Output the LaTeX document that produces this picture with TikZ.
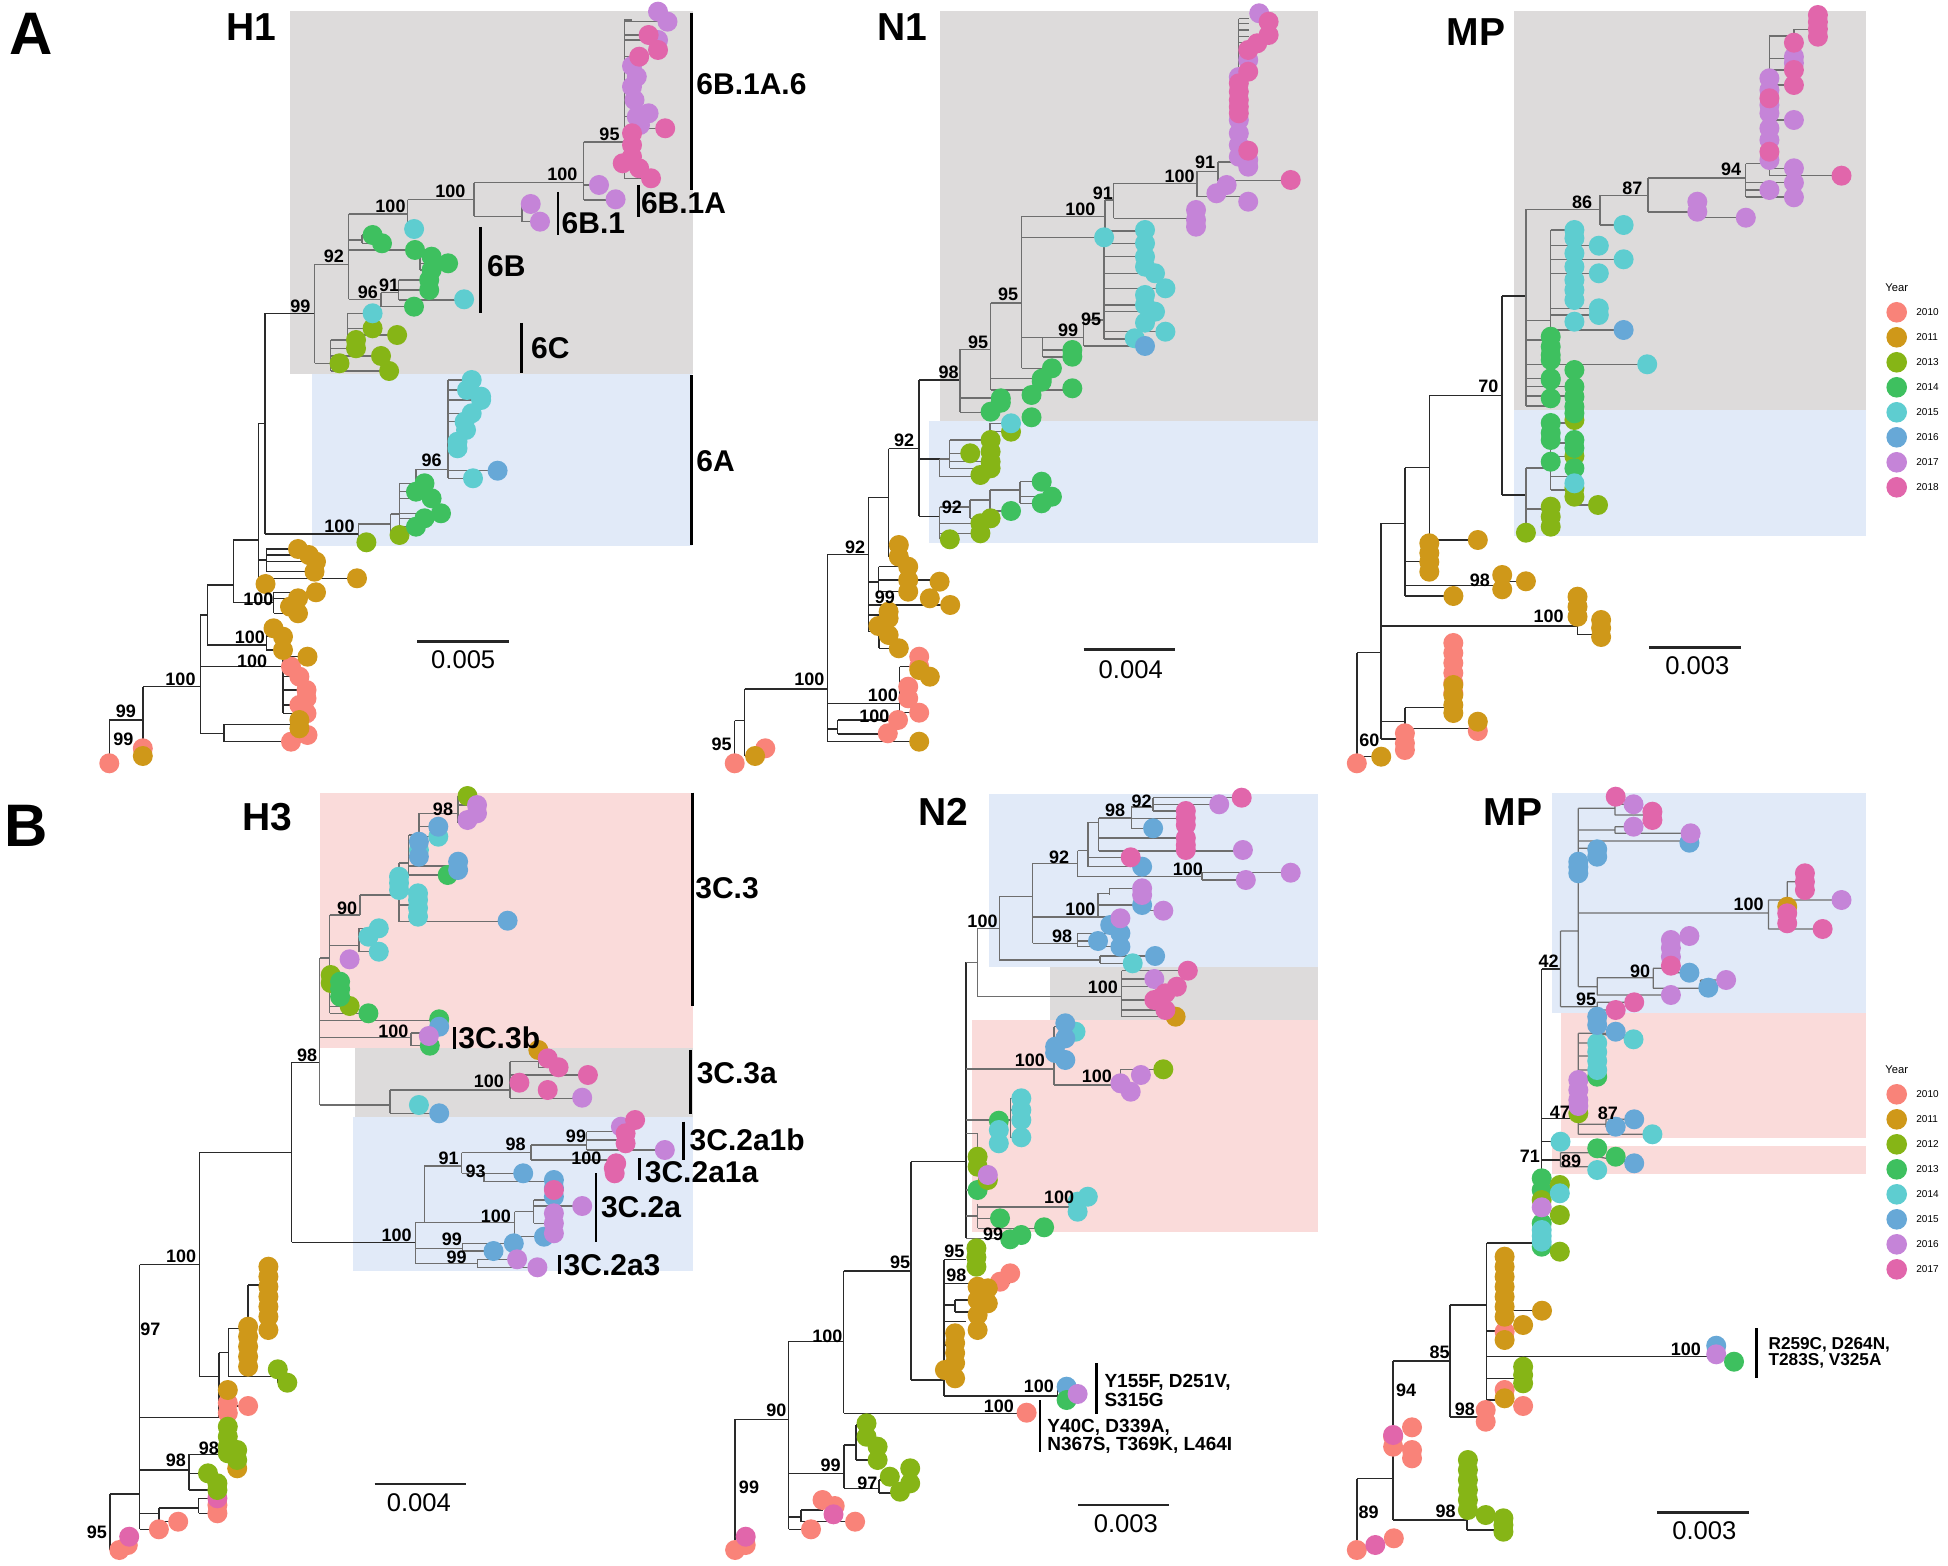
\documentclass[tikz,border=0pt]{standalone}
\usepackage{fontspec}
\setmainfont{Liberation Sans}
\definecolor{cA}{HTML}{F98379}
\definecolor{cB}{HTML}{CF9819}
\definecolor{cC}{HTML}{86B516}
\definecolor{cD}{HTML}{3EC05F}
\definecolor{cE}{HTML}{5ECDD0}
\definecolor{cF}{HTML}{67A8D7}
\definecolor{cG}{HTML}{C584D8}
\definecolor{cH}{HTML}{E166AB}
\definecolor{bgG}{HTML}{DDDBDB}
\definecolor{bgB}{HTML}{E1EAF8}
\definecolor{bgP}{HTML}{FADBDA}
\definecolor{brI}{HTML}{6E6E6E}
\definecolor{brO}{HTML}{2A2A2A}
\newcounter{bsn}
\newcommand\tp[2]{\foreach \p in {#2}{\fill[#1] \p circle[radius=10];}}
\newcommand\bsl[3]{\stepcounter{bsn}\node[bs] (bs\arabic{bsn}) at (#1,#2) {#3};}
\tikzset{
 bo/.style={draw=brO,line width=0.75pt},
 bi/.style={draw=brI,line width=0.65pt},
 bs/.style={font=\bfseries\fontsize{9}{9}\selectfont,inner sep=0pt},
 ttl/.style={font=\bfseries\fontsize{19.5}{19.5}\selectfont,inner sep=0pt},
 cll/.style={font=\bfseries\fontsize{15}{15}\selectfont,inner sep=0pt,anchor=west},
 cbar/.style={draw=black,line width=1.4pt},
 sbar/.style={draw=black!85,line width=1.4pt},
 stx/.style={font=\fontsize{12.8}{12.8}\selectfont,inner sep=0pt},
 ann/.style={font=\bfseries\fontsize{9.5}{7}\selectfont,inner sep=0pt,anchor=west,align=left},
 lgt/.style={font=\fontsize{5.6}{5.6}\selectfont,inner sep=0pt},
 lgl/.style={font=\fontsize{5}{5}\selectfont,inner sep=0pt,anchor=west},
 pnl/.style={font=\bfseries\fontsize{30}{30}\selectfont,inner sep=0pt}
}
\begin{document}
\begin{tikzpicture}[x=0.5pt,y=-0.5pt]
\useasboundingbox (0,0) rectangle (1948,1566);
\fill[white] (0,0) rectangle (1948,1566);
\node[pnl] (pA) at (31.5,33.5) {A};
\node[pnl] (pB) at (26,826) {B};

%% ================= A : H1 =================
\fill[bgG] (290,11) rectangle (692.5,374.3);
\fill[bgB] (312,374.3) rectangle (691.5,545.7);
\node[ttl] (tH1) at (251,27) {H1};
\draw[bo] (109.3,720)--(109.3,763) (109.3,720)--(142.8,720) (142.8,686.7)--(142.8,756) (142.8,686.7)--(200.3,686.7) (200.3,615)--(200.3,733.3) (200.3,733.3)--(224,733.3) (224,724.3)--(224,741.7) (224,724.3)--(291,724.3) (224,741.7)--(291,741.7) (200.3,666.7)--(283,666.7) (283,656.7)--(283,713.3) (283,676.7)--(299.4,676.7) (283,690)--(306.5,690) (283,705)--(299.4,705) (283,713.3)--(306.5,713.3) (283,656.7)--(307.5,656.7) (200.3,615)--(207.4,615) (207.4,585)--(207.4,645) (207.4,645)--(266.4,645) (266.4,628.3)--(266.4,650) (266.4,628.3)--(273.5,628.3) (266.4,636.7)--(283,636.7) (266.4,650)--(283,650) (207.4,585)--(233.4,585) (233.4,540)--(233.4,602.7) (233.4,602.7)--(273.5,602.7) (273.5,592.3)--(273.5,613.3) (273.5,592.3)--(316,592.3) (273.5,598.3)--(298,598.3) (273.5,613.3)--(298,613.3) (233.4,540)--(258.4,540) (258.4,423.3)--(258.4,584) (258.4,578.3)--(357,578.3) (258.4,584)--(265.5,584) (258.4,560)--(266.4,560) (266.4,549)--(266.4,571.7) (266.4,549)--(298,549) (266.4,555)--(308.9,555) (266.4,561.7)--(316,561.7) (266.4,571.7)--(314.5,571.7) (258.4,423.3)--(265,423.3) (265,313.3)--(265,534) (265,534)--(358.4,534) (265,313.3)--(314.5,313.3);
\draw[bi] (358.4,524)--(358.4,542.3) (358.4,542.3)--(366.4,542.3) (358.4,524)--(390.5,524) (390.5,514)--(390.5,535) (390.5,535)--(399.5,535) (390.5,514)--(399.5,514) (399.5,483.3)--(399.5,526.7) (399.5,526.7)--(416,526.7) (399.5,518.3)--(424.5,518.3) (399.5,513.3)--(441,513.3) (399.5,498.3)--(431.6,498.3) (399.5,491.7)--(416,491.7) (399.5,483.3)--(416,483.3) (416,469.3)--(416,483.3) (416,469.3)--(448,469.3) (448,380)--(448,478.3) (448,478.3)--(473,478.3) (448,470.7)--(497.6,470.7) (448,448.3)--(457.5,448.3) (448,421.7)--(464.6,421.7) (448,413.3)--(471.7,413.3) (448,400)--(481.1,400) (448,390)--(467,390) (448,380)--(471.7,380);
\draw[bi] (314.5,264.3)--(314.5,363.3) (314.5,363.3)--(330.6,363.3) (330.6,340)--(330.6,371) (330.6,371)--(389.1,371) (330.6,356)--(381,356) (330.6,348.3)--(356,348.3) (330.6,340)--(347.6,340) (347.6,313.3)--(347.6,340) (347.6,313.3)--(372.6,313.3) (347.6,328.3)--(372.6,328.3) (347.6,335)--(397.1,335) (314.5,264.3)--(348.6,264.3) (348.6,214)--(348.6,299.3) (348.6,299.3)--(381,299.3) (381,292.7)--(381,306.7) (381,306.7)--(414,306.7) (381,292.7)--(398.6,292.7) (398.6,280)--(398.6,300) (398.6,300)--(464.1,300) (398.6,290)--(429.2,290) (398.6,280)--(429.2,280) (348.6,250)--(420,250) (420,250)--(420,270) (420,263.3)--(448.1,263.3) (420,270)--(431.6,270) (420,256.7)--(431.6,256.7) (348.6,240)--(362,240) (362,235)--(362,243.3) (362,235)--(372.6,235) (362,243.3)--(382,243.3) (348.6,214)--(407.7,214) (407.7,199.7)--(407.7,229) (407.7,229)--(414.1,229) (407.7,199.7)--(474,199.7) (474,182.7)--(474,216.3) (474,216.3)--(522,216.3) (522,204)--(522,221.7) (522,204)--(530.7,204) (522,221.7)--(540,221.7) (474,182.7)--(583.6,182.7) (583.6,142)--(583.6,200) (583.6,200)--(615.6,200) (583.6,185)--(599,185) (583.6,142)--(624.3,142) (624.3,20)--(624.3,178.3) (624.3,178.3)--(651,178.3) (624.3,168.3)--(639.2,168.3) (624.3,128.3)--(665.2,128.3) (624.3,116.7)--(636.8,116.7) (624.3,100)--(634.5,100) (624.3,56.7)--(639.2,56.7) (624.3,40)--(658,40) (624.3,35)--(648.6,35) (624.3,21.7)--(667.5,21.7) (624.3,20)--(632,20);
\tp{cA}{(109.3,763.3),(142.8,748.3),(291,741.7),(307.5,735),(291,666.7),(299.4,676.7),(306.5,690),(306.5,698.3),(299.4,705),(306.5,713.3)}
\tp{cB}{(142.8,756),(299.4,720),(299.4,728.3),(307.5,656.7),(273.5,628.3),(283,636.7),(283,650),(298,598.3),(290,606.7),(298,613.3),(316,592.3),(298,549),(308.9,555),(316,561.7),(314.5,571.7),(265.5,584),(357,578.3)}
\tp{cC}{(366.4,542.3),(399.5,535),(339.5,363.3),(356,348.3),(356,340),(372.6,328.3),(381,356),(389.1,371),(397.1,335)}
\tp{cD}{(416,526.7),(424.5,518.3),(441,513.3),(431.6,498.3),(416,491.7),(424.5,483.3),(414,306.7),(429.2,290),(429.2,280),(431.6,270),(448.1,263.3),(431.6,256.7),(415,250),(382,243.3),(372.6,235)}
\tp{cE}{(473,478.3),(457.5,448.3),(457.5,441.7),(466,430),(464.6,421.7),(471.7,413.3),(481.1,400),(467,390),(471.7,380),(481.1,396.7),(372.6,313.3),(464.1,299.3),(414.1,229)}
\tp{cF}{(497.6,470.7)}
\tp{cG}{(530.7,204),(540,221.7),(599,185),(615.6,199.3),(658,11.7),(667.5,21.7),(658,40),(636.8,76.7),(632,66),(632,86.7),(634.5,100),(648.6,113.3),(636.8,116.7),(640,125)}
\tp{cH}{(648.6,35),(639.2,56.7),(658,50),(665.2,128.3),(632,133.3),(632,145),(632,156.7),(622.7,163.3),(639.2,168.3),(651,178.3)}
\bsl{125.8}{711.7}{99} \bsl{123.4}{739.3}{99} \bsl{180.5}{679}{100} \bsl{252.2}{661.7}{100} \bsl{249.9}{637.3}{100} \bsl{258.4}{599}{100} \bsl{339.5}{526.7}{100} \bsl{431.6}{460}{96}
\bsl{300.4}{306.7}{99} \bsl{333.9}{256}{92} \bsl{367.9}{292.7}{96} \bsl{389.1}{285}{91} \bsl{390.5}{206.7}{100} \bsl{450.4}{191.7}{100} \bsl{562.3}{174}{100} \bsl{609.5}{134.3}{95}
\draw[cbar] (691.6,13)--(691.6,190) (638.3,185)--(638.3,217) (558,192)--(558,235) (480.2,227)--(480.2,313) (521.2,323)--(521.2,373) (691.6,375)--(691.6,545);
\node[cll] (k1) at (696,84) {6B.1A.6};
\node[cll] (k2) at (640.6,203) {6B.1A};
\node[cll] (k3) at (561.3,223) {6B.1};
\node[cll] (k4) at (486.8,266) {6B};
\node[cll] (k5) at (530.7,348) {6C};
\node[cll] (k6) at (696,461) {6A};
\draw[sbar] (417.4,641.7)--(509.4,641.7);
\node[stx] (s1) at (463.2,660) {0.005};

%% ================= A : N1 =================
\fill[bgG] (939.6,11) rectangle (1318.4,421);
\fill[bgB] (929.4,421) rectangle (1318.4,543.3);
\node[ttl] (tN1) at (902.5,26.7) {N1};
\draw[bo] (734.7,720.7)--(734.7,763.3) (734.7,720.7)--(744.5,720.7) (744.5,689)--(744.5,756) (744.5,756)--(755.1,756) (744.5,689)--(827.4,689) (827.4,554.7)--(827.4,741.7) (827.4,741.7)--(919.2,741.7) (827.4,703.3)--(899.5,703.3) (899.5,666.7)--(899.5,712.7) (899.5,666.7)--(919.2,666.7) (899.5,686.7)--(908.2,686.7) (899.5,712.7)--(919.2,712.7) (827.4,729)--(837.6,729) (837.6,720)--(837.6,734) (837.6,720)--(898,720) (837.6,734)--(887.8,734) (827.4,554.7)--(868.4,554.7) (868.4,497.7)--(868.4,631.7) (868.4,582)--(878.6,582) (878.6,566.7)--(878.6,591.7) (878.6,566.7)--(908.2,566.7) (878.6,580)--(939.6,580) (878.6,591.7)--(908.2,591.7) (868.4,605)--(950.2,605) (868.4,615)--(888.6,615) (868.4,631.7)--(878.8,631.7) (878.8,626)--(878.8,648.3) (878.8,648.3)--(898.8,648.3) (878.8,635)--(888.6,635) (868.4,497.7)--(888.6,497.7) (888.6,448.7)--(888.6,556.7) (888.6,545)--(898.8,545) (888.6,556.7)--(898.8,556.7) (888.6,448.7)--(919.2,448.7) (919.2,380)--(919.2,516.3) (919.2,380)--(960,380) (919.2,516.3)--(939.6,516.3) (919.2,459)--(939.6,459);
\draw[bi] (939.6,507)--(939.6,539.3) (939.6,539.3)--(949.8,539.3) (939.6,533.3)--(980.4,533.3) (939.6,523.3)--(980.4,523.3) (939.6,507)--(970,507) (970,500)--(970,518.3) (970,518.3)--(990.6,518.3) (970,500)--(990,500) (990,490)--(990,511) (990,511)--(1011,511) (990,490)--(1020,490) (1020,481.7)--(1020,503.3) (1020,503.3)--(1041.7,503.3) (1020,496.7)--(1051.9,496.7) (1020,481.7)--(1041.7,481.7)
 (939.6,459)--(939.6,476.7) (939.6,476.7)--(980.4,476.7) (939.6,459)--(949.8,459) (949.8,440)--(949.8,468.3) (949.8,468.3)--(990.6,468.3) (949.8,461.7)--(990.6,461.7) (949.8,453.3)--(970.2,453.3) (949.8,440)--(990,440) (990,423.3)--(990,440) (990,423.3)--(1011,423.3) (990,431.7)--(1011,431.7)
 (960,349.3)--(960,412.3) (960,412.3)--(990.6,412.3) (960,398)--(1000.8,398) (960,349.3)--(990.8,349.3) (990.8,303)--(990.8,390) (990.8,390)--(1072.3,390) (990.8,378.7)--(1041.7,378.7) (990.8,303)--(1021.5,303) (1021.5,216.3)--(1021.5,368.3) (1021.5,368.3)--(1051.9,368.3) (1021.5,337.7)--(1083.7,337.7) (1042.5,337.7)--(1042.5,357) (1042.5,350)--(1072.3,350) (1042.5,357)--(1072.3,357) (1083.7,320)--(1083.7,346) (1083.7,346)--(1145,346) (1083.7,320)--(1104,320) (1104,243.3)--(1104,339) (1104,243.3)--(1145,243.3) (1104,256.7)--(1145,256.7) (1104,273.3)--(1155,273.3) (1104,288.3)--(1165.4,288.3) (1104,305)--(1145,305) (1104,311.7)--(1155,311.7) (1104,331.7)--(1165.4,331.7) (1104,339)--(1134.7,339) (1021.5,237.3)--(1104.1,237.3) (1021.5,216.3)--(1105,216.3) (1105,200)--(1105,231) (1105,231)--(1145,231) (1105,200)--(1113.5,200) (1113.5,183.3)--(1113.5,218.3) (1113.5,218.3)--(1196.4,218.3) (1113.5,183.3)--(1197,183.3) (1197,171.3)--(1197,196.7) (1197,196.7)--(1248.2,196.7) (1197,171.3)--(1218.1,171.3) (1218.1,162)--(1218.1,180.7) (1218.1,180.7)--(1290.7,180.7) (1218.1,162)--(1238.8,162) (1238.8,18.7)--(1238.8,162) (1238.8,18.7)--(1249,18.7) (1238.8,23.3)--(1249,23.3) (1238.8,30)--(1249,30) (1238.8,36.7)--(1249,36.7) (1238.8,42.7)--(1249,42.7);
\tp{cA}{(734.7,763.3),(765.3,748.3),(919.2,656.7),(919.2,666.7),(908.2,686.7),(908.2,698.3),(919.2,712.7),(898,720),(887.8,733.3)}
\tp{cB}{(755.1,756),(919.2,741.7),(919.2,670),(929.8,676.7),(898.8,545),(898.8,556.7),(908.2,566.7),(908.2,580),(908.2,591.7),(929.8,598.3),(939.6,581.7),(950.2,605),(888.6,611.7),(888.6,618.3),(878.4,626),(888.6,635),(898.8,648.3)}
\tp{cC}{(949.8,539.3),(980.4,533.3),(980.4,523.3),(990.6,518.3),(970.2,453.3),(990.6,440),(990.6,451.7),(990.6,461.7),(990.6,468.3),(980.4,475),(1011,431.7)}
\tp{cD}{(1011,511),(1041.7,503.3),(1051.9,496.7),(1041.7,481.7),(990.6,411.7),(1000.8,402.7),(1031.5,417.3),(1000.8,398.3),(1031.5,395),(1041.7,381.7),(1051.9,368.3),(1072.3,356.7),(1072.3,388.3),(1072.3,350),(1041.7,378.7)}
\tp{cE}{(1011,423.3),(1104.1,237.3),(1145,230),(1145,243.3),(1145,256.7),(1145,266.7),(1155,273.3),(1165.4,288.3),(1145,295),(1145,305),(1155,311.7),(1145,322.7),(1165.4,331.7),(1134.7,338.3)}
\tp{cF}{(1145,346)}
\tp{cG}{(1196,210),(1196,220),(1196,226.7),(1216.4,193.3),(1226.6,185),(1248.2,201.7),(1238.8,77),(1238.8,120),(1238.8,133.3),(1238.8,145),(1238.8,156.7),(1248.2,166.7),(1248.2,160),(1248.2,60),(1259.2,13.3)}
\tp{cH}{(1290.7,180),(1238.8,83.3),(1238.8,91.7),(1238.8,100),(1238.8,106.7),(1238.8,113.3),(1248.2,71.7),(1248.2,150.7),(1248.2,50),(1257.2,43.3),(1268.6,35),(1268.6,21.7)}
\bsl{1205}{162.7}{91} \bsl{1179.6}{176.7}{100} \bsl{1102.9}{193.3}{91} \bsl{1080.4}{209.3}{100} \bsl{1008.2}{294.7}{95} \bsl{1091}{319.3}{95} \bsl{1068.2}{330.7}{99} \bsl{978}{342.7}{95} \bsl{948.6}{372.3}{98} \bsl{904.1}{440.7}{92} \bsl{951.9}{507.3}{92} \bsl{855.1}{547.3}{92} \bsl{884.9}{597.3}{99} \bsl{809.4}{679.3}{100} \bsl{882.9}{695}{100} \bsl{874.3}{716.7}{100} \bsl{721.6}{744.3}{95}
\draw[sbar] (1083.7,649.3)--(1174.7,649.3);
\node[stx] (s2) at (1130.7,670) {0.004};

%% ================= A : MP =================
\fill[bgG] (1514.4,11) rectangle (1866,410);
\fill[bgB] (1514.4,410) rectangle (1866,536);
\node[ttl] (tMPa) at (1475.9,31.7) {MP};
\draw[bo] (1356.8,652.7)--(1356.8,763.3) (1356.8,652.7)--(1381.2,652.7) (1356.8,756.7)--(1381.2,756.7) (1381.2,523.3)--(1381.2,739) (1381.2,739)--(1404.9,739) (1404.9,733.3)--(1404.9,750) (1381.2,721.7)--(1404.9,721.7) (1404.9,707.7)--(1404.9,728.3) (1404.9,707.7)--(1453.3,707.7) (1404.9,728.3)--(1477.8,728.3) (1381.2,626)--(1577.5,626) (1577.5,606.7)--(1577.5,634.7) (1577.5,634.7)--(1601.1,634.7) (1381.2,523.3)--(1404.9,523.3) (1404.9,467.7)--(1404.9,596) (1404.9,596)--(1453.4,596) (1404.9,585.3)--(1502.2,585.3) (1502.2,575)--(1502.2,589.3) (1502.2,581.3)--(1525.9,581.3) (1404.9,561.7)--(1429.3,561.7) (1404.9,467.7)--(1429.3,467.7) (1429.3,395.3)--(1429.3,540) (1429.3,540)--(1477.8,540) (1429.3,395.3)--(1502.2,395.3) (1502.2,296)--(1502.2,495) (1502.2,495)--(1525.9,495) (1502.2,296)--(1525.9,296);
\draw[bi] (1525.9,468)--(1525.9,532.7) (1525.9,509)--(1550.7,509) (1550.7,506.7)--(1550.7,526.7) (1525.9,468)--(1550.7,468) (1550.7,413)--(1550.7,490) (1550.7,490)--(1574.4,490) (1574.4,483.3)--(1574.4,505) (1574.4,505)--(1598,505) (1550.7,476.7)--(1574.4,476.7) (1550.7,456.7)--(1574.4,456.7) (1550.7,443)--(1574.4,443) (1550.7,423)--(1574.4,423) (1525.9,209.3)--(1525.9,406) (1525.9,406)--(1550.7,406) (1525.9,396)--(1574.4,396) (1525.9,386.7)--(1574.4,386.7) (1525.9,364.3)--(1647.2,364.3) (1525.9,340)--(1550.7,340) (1525.9,378.3)--(1550.7,378.3) (1525.9,320.7)--(1550.7,320.7) (1550.7,230)--(1550.7,330) (1550.7,330)--(1623.6,330) (1550.7,230)--(1574.4,230) (1550.7,245.7)--(1598.8,245.7) (1550.7,259.3)--(1623.6,259.3) (1550.7,273.3)--(1598.8,273.3) (1550.7,308.3)--(1598.8,308.3) (1550.7,315)--(1598.8,315) (1525.9,209.3)--(1600,209.3) (1600,195.3)--(1600,225) (1600,225)--(1623.6,225) (1600,195.3)--(1648,195.3) (1648,178)--(1648,212) (1648,212)--(1697.3,212) (1697.3,217.7)--(1745.8,217.7) (1648,178)--(1745.8,178) (1745.8,163.7)--(1745.8,197) (1745.8,197)--(1793.9,197) (1745.8,190)--(1769.4,190) (1745.8,182.7)--(1793.9,182.7) (1745.8,163.7)--(1769.4,163.7) (1769.4,36)--(1769.4,175.7) (1769.4,175.7)--(1841.5,175.7) (1769.4,168.3)--(1793.9,168.3) (1769.4,120)--(1793.9,120) (1769.4,85)--(1793.9,85) (1769.4,70)--(1793.9,70) (1769.4,58.3)--(1793.9,58.3) (1769.4,36)--(1793.9,36) (1793.9,29.3)--(1793.9,42.7) (1793.9,29.3)--(1817.9,29.3);
\tp{cA}{(1356.8,763.3),(1404.9,733.3),(1404.9,743.3),(1404.9,750),(1453.3,643),(1453.3,653),(1453.3,663),(1453.3,673),(1453.3,683),(1453.3,693),(1477.8,731)}
\tp{cB}{(1381.2,756.7),(1453.3,685),(1453.3,695),(1453.3,705),(1453.3,713),(1477.8,721.7),(1577.5,596.7),(1577.5,606.7),(1577.5,616.7),(1601.1,620),(1601.1,628),(1601.1,637),(1453.4,596),(1502.2,589.3),(1502.2,575),(1525.9,581.3),(1429.3,543.3),(1429.3,553),(1429.3,562),(1429.3,571.7),(1477.8,540)}
\tp{cC}{(1525.9,532.7),(1550.7,506.7),(1550.7,516.7),(1550.7,526.7),(1598,505),(1574.4,496.7),(1574.4,488),(1574.4,456),(1574.4,420)}
\tp{cD}{(1550.7,380),(1550.7,398.3),(1550.7,423),(1550.7,433),(1550.7,440),(1550.7,461.7),(1574.4,386.7),(1574.4,396.7),(1574.4,406.7),(1574.4,413.3),(1574.4,440),(1574.4,448),(1574.4,468.3),(1550.7,336.7),(1550.7,346.7),(1550.7,355),(1550.7,360),(1550.7,378.3),(1574.4,370)}
\tp{cE}{(1574.4,483.3),(1647.2,364.3),(1574.4,230),(1574.4,238.3),(1574.4,253.3),(1574.4,266.7),(1574.4,280),(1574.4,290),(1574.4,300),(1574.4,321.7),(1598.8,245.7),(1623.6,259.3),(1598.8,273.3),(1598.8,308.3),(1598.8,315),(1623.6,225)}
\tp{cF}{(1623.6,330)}
\tp{cG}{(1697.3,201.7),(1697.3,211.7),(1745.8,217.7),(1793.9,197.3),(1793.9,182.7),(1769.4,190),(1769.4,78.3),(1769.4,90),(1769.4,105),(1769.4,113.3),(1769.4,128.3),(1769.4,140),(1769.4,160),(1793.9,168.3),(1793.9,120),(1793.9,56.7),(1793.9,63)}
\tp{cH}{(1841.5,175.7),(1769.4,98.3),(1769.4,151.7),(1793.9,42.7),(1793.9,70),(1793.9,85),(1817.9,15),(1817.9,22),(1817.9,29),(1817.9,36.7)}
\bsl{1731.2}{169.3}{94} \bsl{1632.3}{188.3}{87} \bsl{1582.2}{202.3}{86} \bsl{1488.4}{386.7}{70} \bsl{1479.8}{580}{98} \bsl{1548.7}{616.7}{100} \bsl{1369.4}{740.7}{60}
\draw[sbar] (1649.2,647.7)--(1741,647.7);
\node[stx] (s3) at (1697.3,666) {0.003};
\node[lgt] (yA) at (1896.7,287.7) {Year};
\foreach \cc/\yy/\lab [count=\i] in {cA/312.3/2010,cB/337.3/2011,cC/362.3/2013,cD/387.3/2014,cE/412.3/2015,cF/437.3/2016,cG/462.3/2017,cH/487.3/2018}{
 \fill[\cc] (1896.7,\yy) circle[radius=10.3];
 \node[lgl] (lA\i) at (1916,\yy) {\lab};}

%% ================= B : H3 =================
\fill[bgP] (319.8,793.3) rectangle (693.1,1047.7);
\fill[bgG] (355.2,1048.3) rectangle (693.1,1116.7);
\fill[bgB] (353.3,1117.3) rectangle (693.1,1270.7);
\node[ttl] (tH3) at (267,816.7) {H3};
\draw[bo] (109.8,1494)--(109.8,1550) (109.8,1494)--(139.6,1494) (139.6,1264.7)--(139.6,1529.3) (139.6,1529.3)--(158.9,1529.3) (139.6,1513.3)--(158.9,1513.3) (158.9,1508)--(158.9,1521.7) (158.9,1521.7)--(178.2,1521.7) (158.9,1508)--(198.5,1508) (198.5,1498.3)--(198.5,1513.3) (198.5,1498.3)--(217.4,1498.3) (198.5,1513.3)--(217.4,1513.3) (139.6,1470)--(189,1470) (189,1454.3)--(189,1490) (189,1490)--(217.4,1490) (189,1473.3)--(208,1473.3) (189,1454.3)--(221.4,1454.3) (221.4,1426.7)--(221.4,1460) (221.4,1460)--(237.2,1460) (139.6,1417.3)--(218.8,1417.3) (218.8,1352.7)--(218.8,1417.3) (218.8,1406)--(248.1,1406) (218.8,1352.7)--(228.3,1352.7) (228.3,1328.3)--(228.3,1376.7) (228.3,1376.7)--(277.8,1376.7) (277.8,1369.3)--(277.8,1382.7) (277.8,1382.7)--(287.3,1382.7) (228.3,1328.3)--(248.1,1328.3) (248.1,1285)--(248.1,1328.3) (248.1,1285)--(268.4,1285) (139.6,1264.7)--(199.5,1264.7) (199.5,1152.3)--(199.5,1376.7) (199.5,1376.7)--(218.8,1376.7) (199.5,1152.3)--(291.7,1152.3) (291.7,1062.3)--(291.7,1242.3) (291.7,1242.3)--(415.6,1242.3) (291.7,1062.3)--(319.8,1062.3);
\draw[bi] (319.8,958)--(319.8,1105) (319.8,1105)--(389.9,1105) (389.9,1090)--(389.9,1113.3) (389.9,1113.3)--(439.2,1113.3) (389.9,1090)--(510,1090) (510,1061.7)--(510,1098.3) (510,1098.3)--(582.2,1098.3) (510,1082.7)--(519.4,1082.7) (510,1075)--(587.9,1075) (510,1061.7)--(538.3,1061.7) (538.3,1050)--(538.3,1067.3) (538.3,1067.3)--(558.6,1067.3) (319.8,1037.7)--(410.9,1037.7) (410.9,1033)--(410.9,1045.7) (410.9,1045.7)--(429.8,1045.7) (410.9,1033)--(428.8,1033) (319.8,1020.7)--(439.2,1020.7) (319.8,958)--(329.7,958) (329.7,915)--(329.7,1013.3) (329.7,1013.3)--(368.4,1013.3) (329.7,1006.7)--(349.6,1006.7) (329.7,975)--(340.1,975) (340.1,975)--(340.1,996.7) (329.7,945.7)--(359,945.7) (359,928.3)--(359,951.7) (359,936.7)--(368.4,936.7) (359,951.7)--(378.8,951.7) (359,928.3)--(378.8,928.3) (329.7,915)--(359.9,915) (359.9,895)--(359.9,915) (359.9,895)--(399,895) (399,863)--(399,921.7) (399,921.7)--(507.6,921.7) (399,905)--(418,905) (418,893.3)--(418,916.7) (399,863)--(408.5,863) (408.5,835)--(408.5,875) (408.5,875)--(447.7,875) (408.5,866)--(458.1,866) (408.5,835)--(418.9,835) (418.9,813.3)--(418.9,856.7) (418.9,826.7)--(438.3,826.7) (418.9,836.7)--(438.3,836.7) (418.9,813.3)--(458,813.3) (458,796)--(458,823) (458,805)--(477,805) (458,820)--(467.5,820) (458,796)--(467.5,796)
 (415.6,1222.3)--(415.6,1263.7) (415.6,1263.7)--(477.3,1263.7) (477.3,1259.3)--(477.3,1267.3) (477.3,1259.3)--(517.1,1259.3) (477.3,1267.3)--(537.4,1267.3) (415.6,1248.3)--(462.2,1248.3) (462.2,1243.3)--(462.2,1251) (462.2,1251)--(493.5,1251) (462.2,1243.3)--(513.8,1243.3) (415.6,1222.3)--(514.7,1222.3) (424.4,1166)--(424.4,1222.3) (514.7,1211.7)--(514.7,1236.7) (514.7,1236.7)--(544,1236.7) (514.7,1211.7)--(533.6,1211.7) (533.6,1200)--(533.6,1223.3) (533.6,1200)--(553.9,1200) (533.6,1223.3)--(553.9,1223.3) (533.6,1206)--(582.2,1206) (424.4,1166)--(461.6,1166) (461.6,1152.7)--(461.6,1173.3) (461.6,1173.3)--(484,1173.3) (484,1173.3)--(484,1181.7) (484,1181.7)--(553.9,1181.7) (484,1173.3)--(523.2,1173.3) (461.6,1152.7)--(531.1,1152.7) (531.1,1145)--(531.1,1160) (531.1,1160)--(613.8,1160) (531.1,1145)--(586.5,1145) (586.5,1131.7)--(586.5,1150) (586.5,1150)--(664.8,1150) (586.5,1131.7)--(620.9,1131.7) (586.5,1140)--(625.6,1140);
\tp{cA}{(119.3,1550),(127.8,1545),(158.9,1529.3),(178.2,1521.7),(217.4,1513.3),(217.4,1505),(227.8,1403),(227.8,1413),(248.1,1406)}
\tp{cH}{(129.2,1536.7),(217.4,1498.3)}
\tp{cB}{(237.2,1468.3),(227.8,1390),(248.1,1326.7),(248.1,1336.7),(248.1,1346.7),(248.1,1356.7),(248.1,1366.7),(268.4,1266.7),(268.4,1276.7),(268.4,1286.7),(268.4,1296.7),(268.4,1306.7),(268.4,1316.7),(268.4,1330)}
\tp{cC}{(208,1473.3),(217.4,1483.3),(217.4,1490),(227.8,1426.7),(227.8,1436.7),(227.8,1446.7),(227.8,1453.3),(237.2,1450),(237.2,1460),(277.8,1369.3),(287.3,1382.7)}
\tp{cC}{(467.5,796),(330.7,975),(330.7,983),(349.6,1006)}
\tp{cD}{(447.7,875),(340.1,981.7),(340.1,989),(340.1,996.7),(368.4,1013.3),(439.2,1019.3),(429.8,1045.7)}
\tp{cE}{(378.8,928.3),(368.4,936.7),(378.8,951.7),(399,876.7),(399,883),(399,890),(418,893.3),(418,900),(418,908),(418,916.7),(438.3,836.7),(418.9,850),(418.9,1105)}
\tp{cF}{(507.6,920.7),(458.1,861.7),(458.1,870),(418.9,841.7),(418.9,856.7),(438.3,826.7),(439.2,1026.7),(439.2,1113.3)}
\tp{cG}{(477,805),(477,813.3),(467.5,820),(349.6,959.3),(428.8,1036),(582.2,1097.7)}
\tp{cB}{(538.3,1050)}
\tp{cH}{(519.4,1082.7),(547.7,1090),(587.9,1075),(547.7,1058.3),(558.6,1067.3)}
\tp{cF}{(493.5,1251),(513.8,1243.3),(544,1236.7),(553.9,1196.7),(553.9,1180),(523.2,1173.3),(553.9,1188)}
\tp{cG}{(517.1,1259.3),(537.4,1267.3),(553.9,1213.3),(553.9,1223.3),(553.9,1233.3),(582.2,1206),(620.9,1126.7),(664.8,1150)}
\tp{cH}{(553.9,1190),(616.2,1163.3),(613.8,1168.3),(614.7,1173.3),(635.1,1120),(625.6,1133.3),(625.6,1143.3)}
\bsl{443}{809.3}{98} \bsl{347.2}{908.3}{90} \bsl{393.4}{1031.7}{100} \bsl{307.1}{1055}{98} \bsl{488.8}{1081.7}{100} \bsl{576}{1136}{99} \bsl{515.7}{1144.3}{98} \bsl{586.4}{1158.3}{100} \bsl{448.6}{1158.3}{91} \bsl{475.6}{1171.7}{93} \bsl{495.8}{1216.7}{100} \bsl{396.7}{1235}{100} \bsl{451.9}{1239.3}{99} \bsl{456.7}{1257.3}{99} \bsl{181.1}{1256}{100} \bsl{150.4}{1329.3}{97} \bsl{175.9}{1460.7}{98} \bsl{208.9}{1448.3}{98} \bsl{97}{1532.7}{95}
\draw[cbar] (692.2,792.7)--(692.2,1006) (454.8,1027)--(454.8,1049) (690.7,1050)--(690.7,1114.3) (683.2,1121.7)--(683.2,1160) (639.8,1158.3)--(639.8,1180) (595.9,1173.3)--(595.9,1241.7) (559.5,1255)--(559.5,1274);
\node[cll] (m1) at (695,888.3) {3C.3};
\node[cll] (m2) at (458,1037.3) {3C.3b};
\node[cll] (m3) at (696.4,1072.7) {3C.3a};
\node[cll] (m4) at (689.3,1139.3) {3C.2a1b};
\node[cll] (m5) at (644.5,1172) {3C.2a1a};
\node[cll] (m6) at (600.6,1206.7) {3C.2a};
\node[cll] (m7) at (563.3,1265) {3C.2a3};
\draw[sbar] (374.6,1484)--(466.1,1484);
\node[stx] (s4) at (418.9,1502.7) {0.004};

%% ================= B : N2 =================
\fill[bgB] (988.6,794) rectangle (1318.4,967.3);
\fill[bgG] (1049.8,967.3) rectangle (1318.4,1020);
\fill[bgP] (972.3,1020) rectangle (1318.4,1231.7);
\node[ttl] (tN2) at (943.7,811.7) {N2};
\draw[bo] (735,1419.3)--(735,1550) (735,1419.3)--(788.6,1419.3) (788.6,1341.3)--(788.6,1529.3) (788.6,1529.3)--(811,1529.3) (788.6,1517)--(800.8,1517) (800.8,1510)--(800.8,1521.7) (800.8,1510)--(822.5,1510) (800.8,1521.7)--(855.1,1521.7) (788.6,1473.3)--(843.8,1473.3) (843.8,1445)--(843.8,1488.3) (843.8,1488.3)--(878.8,1488.3) (878.8,1480)--(878.8,1493) (878.8,1480)--(889.8,1480) (878.8,1493)--(900,1493) (843.8,1445)--(856,1445) (856,1425)--(856,1460) (856,1460)--(877.6,1460) (856,1425)--(866.5,1425) (788.6,1341.3)--(843.7,1341.3) (843.7,1271)--(843.7,1413.3) (843.7,1413.3)--(1019.6,1413.3) (843.7,1271)--(910.8,1271) (910.8,1161.7)--(910.8,1380) (910.8,1380)--(944.1,1380) (944.1,1259.7)--(944.1,1396) (944.1,1396)--(1057.3,1396) (1057.3,1388)--(1057.3,1402) (1057.3,1388)--(1066.6,1388) (1057.3,1402)--(1066.6,1402) (944.1,1283.3)--(1010.2,1283.3) (944.1,1305)--(955.1,1305) (955.1,1300)--(955.1,1312) (955.1,1300)--(987.8,1300) (955.1,1312)--(977.6,1312) (944.1,1321.7)--(966,1321.7) (944.1,1345)--(955.1,1345) (944.1,1259.7)--(966.3,1259.7) (910.8,1161.7)--(966.2,1161.7) (966.2,962.3)--(966.2,1238.3);
\draw[bi] (966.2,1238.3)--(1010.2,1238.3) (966.2,1216)--(977.6,1216) (977.6,1204.3)--(977.6,1228.3) (977.6,1228.3)--(1044.1,1228.3) (977.6,1218.3)--(1000,1218.3) (977.6,1207)--(1077.6,1207) (1077.6,1196.7)--(1077.6,1211.7) (1077.6,1196.7)--(1087.8,1196.7) (966.2,1190)--(977.6,1190) (966.2,1133.3)--(977.6,1133.3) (977.6,1133.3)--(977.6,1166.7) (966.2,1120)--(1010.2,1120) (1010.2,1098.3)--(1010.2,1137.3) (1010.2,1098.3)--(1021.3,1098.3) (1010.2,1110)--(1021.3,1110) (1010.2,1137.3)--(1021.3,1137.3) (966.2,1069)--(1053.9,1069) (1053.9,1026.7)--(1053.9,1085) (1053.9,1085)--(1120.4,1085) (1120.4,1069.3)--(1120.4,1091.7) (1120.4,1069.3)--(1163.3,1069.3) (1120.4,1091.7)--(1130.7,1091.7) (1053.9,1026.7)--(1065.3,1026.7) (1053.9,1046.7)--(1065.3,1046.7)
 (966.2,962.3)--(977.6,962.3) (977.6,928.3)--(977.6,996.7) (977.6,996.7)--(1121.7,996.7) (1121.7,970.7)--(1121.7,1016.7) (1121.7,970.7)--(1187.8,970.7) (1121.7,979)--(1154.3,979) (1121.7,986.7)--(1176.8,986.7) (1121.7,1000)--(1154.3,1000) (1121.7,1010)--(1165.4,1010) (1121.7,1016.7)--(1175.6,1016.7) (977.6,928.3)--(999.2,928.3) (999.2,896.7)--(999.2,960) (999.2,960)--(1100,960) (1100,956)--(1100,963.3) (1100,956)--(1155.1,956) (1100,963.3)--(1132.7,963.3) (999.2,896.7)--(1032.7,896.7) (1032.7,863.3)--(1032.7,943.3) (1032.7,943.3)--(1077.6,943.3) (1077.6,933.3)--(1077.6,946.7) (1077.6,941)--(1098,941) (1077.6,946.7)--(1120.4,946.7) (1077.6,933.3)--(1120.4,933.3) (1032.7,917)--(1098,917) (1098,893.3)--(1098,917) (1098,917)--(1120.4,917) (1098,905)--(1142.1,905) (1098,893.3)--(1109.4,893.3) (1109.4,888.3)--(1109.4,895) (1109.4,888.3)--(1142.1,888.3) (1142.1,910.7)--(1163.3,910.7) (1032.7,863.3)--(1077.6,863.3) (1077.6,850.7)--(1077.6,876.7) (1077.6,876.7)--(1202,876.7) (1202,872.3)--(1202,880) (1202,880)--(1245.8,880) (1202,872.3)--(1290.7,872.3) (1077.6,850.7)--(1088,850.7) (1088,822.3)--(1088,866.7) (1088,857.3)--(1130.7,857.3) (1088,866.7)--(1142.1,866.7) (1088,822.3)--(1098.8,822.3) (1098.8,818)--(1098.8,851) (1098.8,851)--(1242.9,851) (1098.8,838)--(1185.8,838) (1098.8,818)--(1131.4,818) (1131.4,807)--(1131.4,828.3) (1131.4,828.3)--(1153.1,828.3) (1131.4,818.3)--(1185.8,818.3) (1131.4,807)--(1153,807) (1153,797.7)--(1153,811) (1153,797.7)--(1241.7,797.7) (1153,804.3)--(1219.2,804.3) (1153,811)--(1185.8,811);
\tp{cA}{(735.1,1550),(745.7,1545),(811,1529.3),(822.5,1500),(834.7,1506),(855.1,1521.7),(1026.6,1412.7),(1010.2,1273.3),(1000,1281.7)}
\tp{cH}{(745.7,1536.7),(833.5,1514.3)}
\tp{cC}{(889.8,1476.7),(900,1491.7),(910.2,1468.3),(910.2,1483.3),(866.5,1423.3),(866.5,1436.7),(877.6,1446.7),(877.6,1460),(976.4,1248.3),(976.4,1257.3),(976.4,1266.7)}
\tp{cB}{(955.1,1333.3),(955.1,1343),(955.1,1353),(955.1,1363),(944.9,1370),(955.1,1378.3),(977.6,1286.7),(977.6,1300),(977.6,1315),(977.6,1330),(987.8,1288.3),(987.8,1303.3)}
\tp{cF}{(1066.6,1386.7)}
\tp{cD}{(1066.6,1400)}
\tp{cG}{(1077.6,1394)}
\tp{cD}{(1010.2,1239.3),(1021.3,1235),(1044.1,1227.3),(1000,1218.3),(977.6,1190),(998.8,1120.7)}
\tp{cE}{(1077.6,1201.7),(1077.6,1211.7),(1087.8,1196.7),(998.8,1130),(998.8,1143.3),(1021.3,1098.3),(1021.3,1110),(1021.3,1120),(1021.3,1137.3),(1075.5,1031.7)}
\tp{cC}{(987.8,1180),(977.6,1156.7),(977.6,1166.7),(1163.3,1069.3)}
\tp{cG}{(987.8,1175),(1120.4,1083.3),(1130.7,1091.7),(1140.9,1075)}
\tp{cF}{(1065.3,1023.3),(1065.3,1038.3),(1055.1,1046.7),(1055.1,1053),(1065.3,1060)}
\tp{cB}{(1175.6,1016.7)}
\tp{cG}{(1154.3,979)}
\tp{cH}{(1187.8,970.7),(1176.8,986.7),(1165.4,993.3),(1154.3,1000),(1160,998),(1165.4,1010)}
\tp{cE}{(1132.7,963.3)}
\tp{cF}{(1155.1,956),(1098,941),(1120.4,946.7),(1120.4,933.3),(1110.2,925),(1142.1,905),(1142.1,866.7),(1153.1,828.3)}
\tp{cG}{(1120.4,918.3),(1142.1,888.3),(1142.1,895),(1163.3,910.7),(1245.8,880),(1290.7,872.7),(1242.9,850),(1219.2,804.3)}
\tp{cH}{(1130.7,857.3),(1185.8,811),(1185.8,818),(1185.8,825),(1185.8,838),(1185.8,845),(1185.8,850),(1241.7,797.7)}
\bsl{1141.7}{801.7}{92} \bsl{1115.1}{810}{98} \bsl{1059.2}{857.3}{92} \bsl{1187.8}{869.3}{100} \bsl{1080.4}{909.3}{100} \bsl{982.5}{921.7}{100} \bsl{1062.1}{936}{98} \bsl{1102.9}{987.3}{100} \bsl{1029.8}{1060.7}{100} \bsl{1096.8}{1076}{100} \bsl{1059.2}{1197.7}{100} \bsl{993.1}{1234}{99} \bsl{954.3}{1251.7}{95} \bsl{956.4}{1275}{98} \bsl{900}{1262.7}{95} \bsl{827.4}{1336}{100} \bsl{1038.8}{1386.7}{100} \bsl{998.8}{1406}{100} \bsl{776.3}{1410.7}{90} \bsl{830.6}{1465}{99} \bsl{867.4}{1483.3}{97} \bsl{749}{1487.3}{99}
\draw[cbar] (1096.8,1363.3)--(1096.8,1414) (1040,1400)--(1040,1451.7);
\node[ann] (a1) at (1104.1,1390.5) {Y155F, D251V,\\S315G};
\node[ann] (a2) at (1047,1436.7) {Y40C, D339A,\\N367S, T369K, L464I};
\draw[sbar] (1078.4,1505)--(1169.4,1505);
\node[stx] (s5) at (1125.8,1523.3) {0.003};

%% ================= B : MP =================
\fill[bgB] (1551.5,793.3) rectangle (1866,1013.3);
\fill[bgP] (1560.5,1013.3) rectangle (1866,1138.3);
\fill[bgP] (1551.5,1145.7) rectangle (1866,1174.3);
\node[ttl] (tMPb) at (1513.2,811.7) {MP};
\draw[bo] (1356.8,1478.7)--(1356.8,1550) (1356.8,1478.7)--(1393.1,1478.7) (1393.1,1361)--(1393.1,1520) (1393.1,1520)--(1467.1,1520) (1467.1,1510)--(1467.1,1530) (1467.1,1530)--(1503.4,1530) (1393.1,1450)--(1412,1450) (1393.1,1361)--(1449.8,1361) (1449.8,1305)--(1449.8,1417) (1449.8,1417)--(1485.7,1417) (1449.8,1305)--(1486.5,1305) (1486.5,1243)--(1486.5,1400) (1486.5,1356.3)--(1708,1356.3) (1486.5,1400)--(1504.6,1400) (1486.5,1378.3)--(1523.1,1378.3) (1486.5,1331)--(1504.6,1331) (1504.6,1310.7)--(1542,1310.7) (1486.5,1243)--(1541.7,1243) (1541.7,969)--(1541.7,1243) (1541.7,1160)--(1560.5,1160) (1541.7,1141.7)--(1560.5,1141.7) (1541.7,1118.3)--(1578.3,1118.3) (1541.7,969)--(1560.5,969);
\draw[bi] (1560.5,1152.7)--(1560.5,1166.7) (1560.5,1152.7)--(1597.2,1152.7) (1560.5,1166.7)--(1597.2,1166.7) (1597.2,1156.7)--(1634.2,1163.3)
 (1578.3,1033.3)--(1578.3,1134.3) (1578.3,1134.3)--(1652.4,1134.3) (1578.3,1124.3)--(1605.9,1124.3) (1605.9,1119.3)--(1605.9,1127) (1605.9,1119.3)--(1634.2,1119.3) (1605.9,1127)--(1615.7,1127) (1578.3,1033.3)--(1615.7,1033.3) (1597.2,1033.3)--(1633.5,1039.3) (1578.3,1043)--(1597.2,1043) (1578.3,1056)--(1597.2,1056) (1578.3,1070)--(1597.2,1070)
 (1560.5,931)--(1560.5,1006.7) (1560.5,1006.7)--(1597.2,1006.7) (1597.2,1002)--(1597.2,1010) (1597.2,1010)--(1615.7,1010) (1597.2,1002.3)--(1634.2,1002.3) (1560.5,931)--(1578.3,931) (1578.3,808.3)--(1578.3,986.7) (1578.3,986.7)--(1597.2,986.7) (1597.2,977.7)--(1597.2,995) (1597.2,995)--(1670.9,995) (1597.2,977.7)--(1653.2,977.7) (1653.2,968.3)--(1653.2,988.3) (1653.2,988.3)--(1708.3,988.3) (1700.5,980)--(1700.5,988.3) (1700.5,980)--(1726.1,980) (1653.2,968.3)--(1670.9,968.3) (1670.9,972.7)--(1689.4,972.7) (1578.3,913)--(1768.4,913) (1768.4,900)--(1768.4,929) (1768.4,929)--(1822.6,929) (1768.4,900)--(1787.2,900) (1787.2,881.7)--(1787.2,900) (1787.2,881.7)--(1804.9,881.7) (1787.2,900)--(1841.5,900) (1578.3,808.3)--(1614.9,808.3) (1614.9,796.7)--(1614.9,815) (1614.9,815)--(1652.4,815) (1614.9,804.3)--(1633.5,804.3) (1578.3,830)--(1615,830) (1615,826.7)--(1615,833.3) (1615,833.3)--(1690.6,833.3) (1615,826.7)--(1633.5,826.7) (1578.3,841)--(1689.4,841) (1578.3,848.3)--(1597.2,848.3);
\tp{cA}{(1356.8,1550),(1393.8,1538.3),(1393.1,1436.7),(1393.1,1446.7),(1412,1427.3),(1412,1450),(1412,1458.3),(1485.7,1410),(1485.7,1421.7),(1504.6,1390),(1523.1,1406),(1504.6,1331.7)}
\tp{cH}{(1375.3,1545),(1393.1,1435)}
\tp{cC}{(1467.9,1460),(1467.9,1470),(1467.9,1480),(1467.9,1490),(1467.9,1500),(1467.9,1510),(1485.7,1515),(1503.4,1518.3),(1503.4,1525),(1503.4,1531.7),(1523.1,1366.7),(1523.1,1375),(1523.1,1383.3)}
\tp{cB}{(1504.6,1398.3),(1504.6,1340),(1504.6,1256.7),(1504.6,1266.7),(1504.6,1276.7),(1504.6,1286.7),(1504.6,1296.7),(1504.6,1306.7),(1504.6,1316.7),(1523.1,1325),(1542,1310.7)}
\tp{cF}{(1716.2,1345.7)}
\tp{cG}{(1716.2,1354.3)}
\tp{cD}{(1734,1361.7)}
\tp{cD}{(1541.7,1178.3),(1541.7,1223.3),(1541.7,1246.7),(1541.7,1190)}
\tp{cC}{(1559.8,1185),(1541.7,1200),(1559.8,1215),(1559.8,1251.7)}
\tp{cE}{(1559.8,1193.3),(1541.7,1230),(1541.7,1236),(1541.7,1241.7)}
\tp{cG}{(1541.7,1207.3)}
\tp{cE}{(1597.2,1170),(1560.5,1141.7)}
\tp{cD}{(1597.2,1148.3),(1615.7,1156.7)}
\tp{cF}{(1634.2,1163.3)}
\tp{cC}{(1578.3,1113.3)}
\tp{cG}{(1578.3,1080),(1578.3,1090),(1578.3,1100),(1578.3,1106)}
\tp{cD}{(1597.2,1076.7)}
\tp{cE}{(1597.2,1043),(1597.2,1052),(1597.2,1061),(1597.2,1070),(1633.5,1039.3),(1652.4,1134.3)}
\tp{cF}{(1597.2,1016.7),(1597.2,1025),(1615.7,1031.7),(1615.7,1126.7),(1634.2,1119.3)}
\tp{cH}{(1615.7,1010),(1634.2,1002.3)}
\tp{cF}{(1689.4,842.7),(1597.2,849.3),(1597.2,856.7),(1578.3,861.7),(1578.3,867),(1578.3,873.3),(1708.3,987.7),(1689.4,972.7)}
\tp{cB}{(1787.2,906.7)}
\tp{cG}{(1633.5,804.3),(1633.5,826.7),(1690.6,833.3),(1670.9,995),(1726.1,980),(1670.9,940),(1670.9,948),(1670.9,956.7),(1689.4,936),(1841.5,900)}
\tp{cH}{(1615.7,796.7),(1652.4,811.7),(1652.4,820),(1670.9,965.7),(1804.9,873.3),(1804.9,881.7),(1804.9,890),(1822.6,929),(1787.2,913.3),(1787.2,923.3)}
\bsl{1748.5}{904.3}{100} \bsl{1548.7}{961.7}{42} \bsl{1640.2}{971.7}{90} \bsl{1586.2}{999.3}{95} \bsl{1559.8}{1112.7}{47} \bsl{1607.8}{1113.3}{87} \bsl{1529.8}{1156}{71} \bsl{1571.2}{1161}{89} \bsl{1685.9}{1349}{100} \bsl{1439.6}{1352.7}{85} \bsl{1406.1}{1390.7}{94} \bsl{1464.8}{1409.3}{98} \bsl{1445.5}{1511.7}{98} \bsl{1368.6}{1512.3}{89}
\draw[cbar] (1756.8,1328.3)--(1756.8,1378.3);
\node[ann,font=\bfseries\fontsize{8.6}{6.2}\selectfont] (a3) at (1768.2,1352.8) {R259C, D264N,\\T283S, V325A};
\draw[sbar] (1657.1,1512.7)--(1748.5,1512.7);
\node[stx] (s6) at (1704.4,1531) {0.003};
\node[lgt] (yB) at (1896.7,1070) {Year};
\foreach \cc/\yy/\lab [count=\i] in {cA/1094.3/2010,cB/1119.3/2011,cC/1144.3/2012,cD/1169.3/2013,cE/1194.3/2014,cF/1219.3/2015,cG/1244.3/2016,cH/1269.3/2017}{
 \fill[\cc] (1896.7,\yy) circle[radius=10.3];
 \node[lgl] (lB\i) at (1916,\yy) {\lab};}
\end{tikzpicture}
\end{document}
